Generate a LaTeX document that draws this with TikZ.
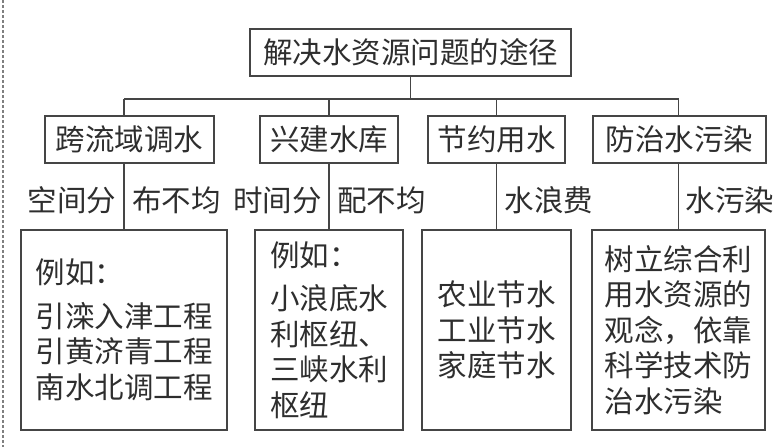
\documentclass[tikz,border=0pt]{standalone}
\usepackage{fontspec}
\newfontfamily\cjk{Noto Sans CJK SC}
\usepackage{xcolor}
\usepackage{tikz}
\usetikzlibrary{positioning, calc}

\definecolor{inkgray}{HTML}{2E2E2E}
\definecolor{linegray}{HTML}{454545}

\begin{document}
\begin{tikzpicture}[
    x=1pt, y=-1pt,
    every node/.style={color=inkgray, font=\cjk\fontsize{29.5}{35.5}\selectfont},
    box/.style={draw=linegray, rectangle, line width=1.1pt, minimum height=47pt,
                inner sep=0pt, align=center},
    detail/.style={draw=linegray, rectangle, line width=1.1pt, minimum height=200pt,
                   inner sep=0pt, align=left},
    cause/.style={inner sep=0pt},
    link/.style={draw=linegray, line width=1.1pt}
]
\useasboundingbox (0,0) rectangle (784,447);

% --- Root ---
\node[box, minimum width=321pt] (root) at (410.5,52.5) {解决水资源问题的途径};

% --- Ways ---
\node[box, minimum width=169pt] (way1) at (129.5,139.5) {跨流域调水};
\node[box, minimum width=138pt] (way2) at (329,139.5)   {兴建水库};
\node[box, minimum width=137pt] (way3) at (496.5,139.5) {节约用水};
\node[box, minimum width=173pt] (way4) at (679.5,139.5) {防治水污染};

% --- Details ---
\node[detail, minimum width=206pt] (ex1) at (124,330)
    {例如：\\[8pt]引滦入津工程\\引黄济青工程\\南水北调工程};
\node[detail, minimum width=148pt] (ex2) at (329,330)
    {例如：\\[8pt]小浪底水\\利枢纽、\\三峡水利\\枢纽};
\node[detail, minimum width=149pt] (ex3) at (496.5,330)
    {农业节水\\工业节水\\家庭节水};
\node[detail, minimum width=173pt] (ex4) at (678.5,330)
    {树立综合利\\用水资源的\\观念，依靠\\科学技术防\\治水污染};

% --- Causes (beside the drop lines) ---
\node[cause] (c1a) at (72,200)    {空间分};
\node[cause] (c1b) at (176.5,200) {布不均};
\node[cause] (c2a) at (277.5,200) {时间分};
\node[cause] (c2b) at (381.5,200) {配不均};
\node[cause] (c3)  at (549,200)   {水浪费};
\node[cause] (c4)  at (730,200)   {水污染};

% --- Tree lines ---
\coordinate (bus) at (0,99);
\draw[link] (root.south) -- (root.south |- bus);
\draw[link] (ex1.north |- bus) -- (ex4.north |- bus);
\foreach \i in {1,2,3,4} {
    \draw[link] (ex\i.north |- bus) -- (ex\i.north |- way\i.north);
    \draw[link] (ex\i.north |- way\i.south) -- (ex\i.north);
}

% --- Cut line at the left edge ---
\coordinate (cutTop) at (3,0);
\coordinate (cutBot) at (3,447);
\draw[gray, line width=1.5pt, dash pattern=on 3pt off 2pt] (cutTop) -- (cutBot);

\end{tikzpicture}
\end{document}
